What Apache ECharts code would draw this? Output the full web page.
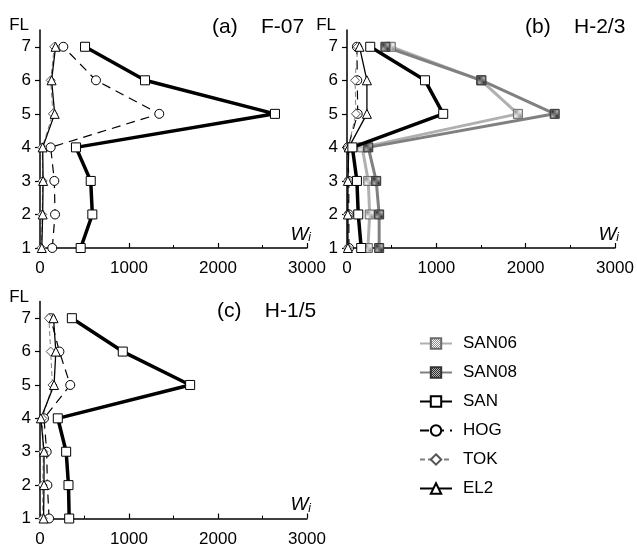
<!DOCTYPE html>
<html>
<head>
<meta charset="utf-8">
<script src="https://cdn.jsdelivr.net/npm/echarts@6/dist/echarts.min.js"></script>
<style>
html,body{margin:0;padding:0;background:#fff;}
#chart{width:637px;height:549px;}
</style>
</head>
<body>
<div id="chart"></div>
<script>
// ---- data ----
const FL = [1, 2, 3, 4, 5, 6, 7];
const X_TICKS = [0, 1000, 2000, 3000];
const SERIES_NAMES = ['SAN06', 'SAN08', 'SAN', 'HOG', 'TOK', 'EL2'];
const PANEL_TITLES = ['(a)    F-07', '(b)    H-2/3', '(c)    H-1/5'];

// panel (a) F-07
const A_SAN = [457, 588, 570, 404, 2640, 1180, 506];
const A_HOG = [138, 169, 161, 120, 1340, 629, 262];
const A_TOK = [15, 25, 30, 25, 145, 120, 160];
const A_EL2 = [20, 30, 35, 30, 165, 130, 175];

// panel (b) H-2/3
const B_SAN06 = [234, 254, 238, 170, 1913, 1500, 490];
const B_SAN08 = [360, 360, 327, 238, 2325, 1505, 430];
const B_SAN = [159, 126, 111, 60, 1077, 873, 260];
const B_HOG = [22, 20, 20, 10, 120, 115, 111];
const B_TOK = [10, 10, 10, 15, 100, 90, 120];
const B_EL2 = [10, 10, 10, 20, 223, 223, 140];

// panel (c) H-1/5
const C_SAN = [328, 320, 294, 200, 1687, 930, 358];
const C_HOG = [102, 83, 75, 45, 340, 218, 120];
const C_TOK = [30, 30, 38, 27, 140, 120, 100];
const C_EL2 = [40, 45, 45, 10, 158, 178, 152];

// ---- build ----
const FONT = "'Liberation Sans', Arial, sans-serif";

function checker(c1, c2) {
  const cv = document.createElement('canvas');
  cv.width = 2; cv.height = 2;
  const ctx = cv.getContext('2d');
  ctx.fillStyle = c1; ctx.fillRect(0, 0, 2, 2);
  ctx.fillStyle = c2; ctx.fillRect(0, 0, 1, 1); ctx.fillRect(1, 1, 1, 1);
  return { image: cv, repeat: 'repeat' };
}

function pairs(vals) { return vals.map((v, i) => [v, FL[i]]); }

const STYLES = {
  SAN06: { symbol: 'rect', symbolSize: 9, line: { color: '#b0b0b0', width: 3, type: 'solid' },
           item: { color: checker('#ffffff', '#8a8a8a'), borderColor: '#6a6a6a', borderWidth: 1 } },
  SAN08: { symbol: 'rect', symbolSize: 9, line: { color: '#808080', width: 3, type: 'solid' },
           item: { color: checker('#bbbbbb', '#2a2a2a'), borderColor: '#333333', borderWidth: 1 } },
  SAN:   { symbol: 'rect', symbolSize: 9, line: { color: '#000', width: 3.5, type: 'solid' },
           item: { color: '#fff', borderColor: '#000', borderWidth: 1 } },
  HOG:   { symbol: 'circle', symbolSize: 9, line: { color: '#000', width: 1.2, type: [9, 6] },
           item: { color: '#fff', borderColor: '#000', borderWidth: 1 } },
  TOK:   { symbol: 'diamond', symbolSize: 9, line: { color: '#808080', width: 1, type: [5, 3] },
           item: { color: '#fff', borderColor: '#555', borderWidth: 1 } },
  EL2:   { symbol: 'triangle', symbolSize: 9, line: { color: '#000', width: 1.3, type: 'solid' },
           item: { color: '#fff', borderColor: '#000', borderWidth: 1 } }
};

const PANELS = [
  { grid: { left: 40, top: 30, width: 267, height: 218 },
    data: { SAN: A_SAN, HOG: A_HOG, TOK: A_TOK, EL2: A_EL2 } },
  { grid: { left: 347, top: 30, width: 268, height: 218 },
    data: { SAN06: B_SAN06, SAN08: B_SAN08, SAN: B_SAN, HOG: B_HOG, TOK: B_TOK, EL2: B_EL2 } },
  { grid: { left: 40, top: 301.5, width: 267, height: 217 },
    data: { SAN: C_SAN, HOG: C_HOG, TOK: C_TOK, EL2: C_EL2 } }
];

const grids = [], xAxes = [], yAxes = [], series = [], graphics = [];
PANELS.forEach((p, k) => {
  grids.push(p.grid);
  xAxes.push({
    gridIndex: k, type: 'value', min: 0, max: 3000, interval: 1000,
    axisLine: { lineStyle: { color: '#000', width: 1.5 } },
    axisTick: { inside: true, length: 5, lineStyle: { color: '#000', width: 1.2 }, customValues: X_TICKS },
    minorTick: { show: true, splitNumber: 2, length: 3, lineStyle: { color: '#000', width: 1 } },
    splitLine: { show: false },
    axisLabel: { color: '#000', fontSize: 17, fontFamily: FONT, margin: 12, customValues: X_TICKS,
                 formatter: v => String(v) },
    name: '{w|W}{i|i}', nameLocation: 'end', nameGap: 4,
    nameTextStyle: {
      align: 'right', verticalAlign: 'bottom', padding: [0, 0, 4, 0],
      rich: {
        w: { fontSize: 19, fontStyle: 'italic', fontFamily: FONT, color: '#000', lineHeight: 19, verticalAlign: 'bottom' },
        i: { fontSize: 12, fontStyle: 'italic', fontFamily: FONT, color: '#000', lineHeight: 10, verticalAlign: 'bottom' }
      }
    }
  });
  yAxes.push({
    gridIndex: k, type: 'value', min: 1, max: 7.5, interval: 1,
    axisLine: { onZero: false, lineStyle: { color: '#000', width: 1.5 } },
    axisTick: { inside: false, length: 5, lineStyle: { color: '#000', width: 1.2 }, customValues: FL },
    splitLine: { show: false },
    axisLabel: { color: '#000', fontSize: 17, fontFamily: FONT, margin: 9, customValues: FL },
    name: 'FL', nameLocation: 'end', nameGap: -4,
    nameTextStyle: { color: '#000', fontSize: 17, fontFamily: FONT, align: 'right', verticalAlign: 'bottom', padding: [0, 11, 0, 0] }
  });
  Object.keys(p.data).forEach(name => {
    const s = STYLES[name];
    series.push({
      name: name, type: 'line', xAxisIndex: k, yAxisIndex: k,
      data: pairs(p.data[name]),
      symbol: s.symbol, symbolSize: s.symbolSize, showAllSymbol: true,
      lineStyle: s.line, itemStyle: s.item,
      z: name === 'SAN' ? 3 : 2,
      animation: false, emphasis: { disabled: true }
    });
  });
});

const titlePos = [
  { left: 212, top: 17 },
  { left: 525, top: 17 },
  { left: 217, top: 301 }
];
PANEL_TITLES.forEach((t, k) => {
  graphics.push({
    type: 'text', left: titlePos[k].left, top: titlePos[k].top,
    style: { text: t, fontSize: 21, fontFamily: FONT, fill: '#000' }
  });
});

const chart = echarts.init(document.getElementById('chart'), null, { renderer: 'canvas' });
chart.setOption({
  backgroundColor: '#fff',
  animation: false,
  grid: grids,
  xAxis: xAxes,
  yAxis: yAxes,
  series: series,
  graphic: graphics,
  legend: {
    orient: 'vertical', left: 414, top: 330,
    data: SERIES_NAMES,
    itemWidth: 32, itemHeight: 13, itemGap: 12,
    textStyle: { color: '#000', fontSize: 17, fontFamily: FONT, padding: [0, 0, 0, 6] },
    selectedMode: false
  }
});
</script>
</body>
</html>
